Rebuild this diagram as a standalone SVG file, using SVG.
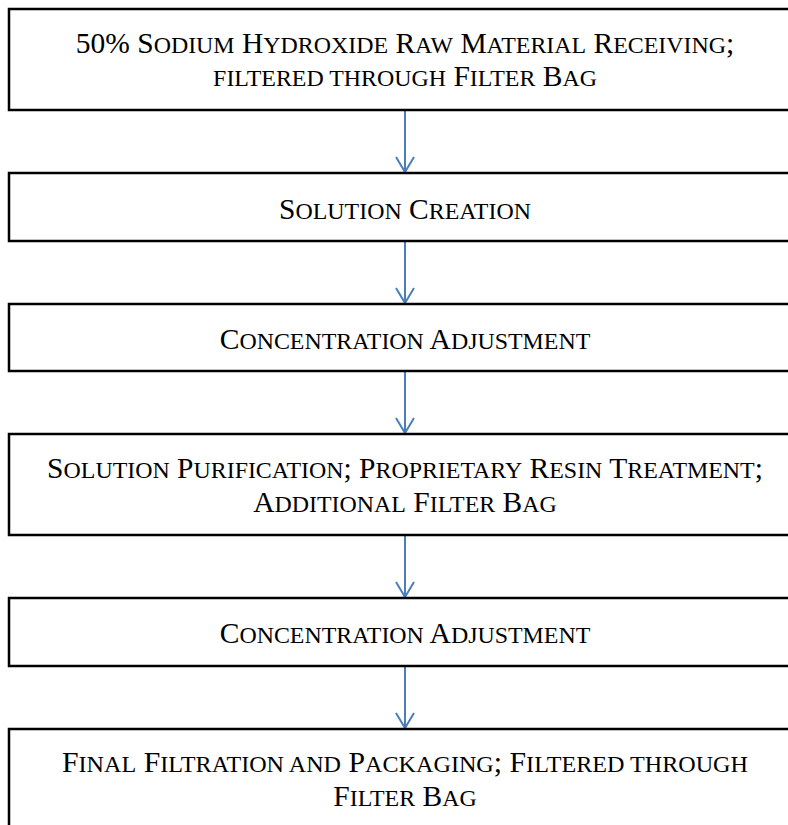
<svg xmlns="http://www.w3.org/2000/svg" width="788" height="825" viewBox="0 0 788 825">
<style>
.box{fill:#fff;stroke:#000;stroke-width:2.5}
.t{font-family:"Liberation Serif","Times New Roman",serif;font-size:29.5px;fill:#000;text-anchor:middle}
.s{font-size:23.9px}
.c{stroke:#4a7ebb;stroke-width:2;fill:none}
</style>
<defs>
<marker id="ah" markerWidth="24" markerHeight="20" refX="10" refY="17" orient="0" markerUnits="userSpaceOnUse">
<path d="M1,2 L10,17 L19,2" fill="none" stroke="#4a7ebb" stroke-width="2"/>
</marker>
</defs>
<rect width="788" height="825" fill="#fff"/>
<g id="connectors">
<line class="c" x1="405" y1="110" x2="405" y2="172" marker-end="url(#ah)"/>
<line class="c" x1="405" y1="241" x2="405" y2="303" marker-end="url(#ah)"/>
<line class="c" x1="405" y1="371" x2="405" y2="433" marker-end="url(#ah)"/>
<line class="c" x1="405" y1="535" x2="405" y2="597" marker-end="url(#ah)"/>
<line class="c" x1="405" y1="666" x2="405" y2="728" marker-end="url(#ah)"/>
</g>
<g id="n1">
<rect class="box" x="9" y="9" width="800" height="101"/>
<text class="t" x="405" y="53">50% S<tspan class="s">ODIUM</tspan> H<tspan class="s">YDROXIDE</tspan> R<tspan class="s">AW</tspan> M<tspan class="s">ATERIAL</tspan> R<tspan class="s">ECEIVING</tspan>;</text>
<text class="t" x="405" y="86"><tspan class="s">FILTERED THROUGH</tspan> F<tspan class="s">ILTER</tspan> B<tspan class="s">AG</tspan></text>
</g>
<g id="n2">
<rect class="box" x="9" y="173" width="800" height="68"/>
<text class="t" x="405" y="219">S<tspan class="s">OLUTION</tspan> C<tspan class="s">REATION</tspan></text>
</g>
<g id="n3">
<rect class="box" x="9" y="304" width="800" height="67"/>
<text class="t" x="405" y="349">C<tspan class="s">ONCENTRATION</tspan> A<tspan class="s">DJUSTMENT</tspan></text>
</g>
<g id="n4">
<rect class="box" x="9" y="434" width="800" height="101"/>
<text class="t" x="405" y="478">S<tspan class="s">OLUTION</tspan> P<tspan class="s">URIFICATION</tspan>; P<tspan class="s">ROPRIETARY</tspan> R<tspan class="s">ESIN</tspan> T<tspan class="s">REATMENT</tspan>;</text>
<text class="t" x="405" y="512">A<tspan class="s">DDITIONAL</tspan> F<tspan class="s">ILTER</tspan> B<tspan class="s">AG</tspan></text>
</g>
<g id="n5">
<rect class="box" x="9" y="598" width="800" height="68"/>
<text class="t" x="405" y="643">C<tspan class="s">ONCENTRATION</tspan> A<tspan class="s">DJUSTMENT</tspan></text>
</g>
<g id="n6">
<rect class="box" x="9" y="729" width="800" height="110"/>
<text class="t" x="405" y="772" textLength="686" lengthAdjust="spacingAndGlyphs">F<tspan class="s">INAL</tspan> F<tspan class="s">ILTRATION AND</tspan> P<tspan class="s">ACKAGING</tspan>; F<tspan class="s">ILTERED THROUGH</tspan></text>
<text class="t" x="405" y="806">F<tspan class="s">ILTER</tspan> B<tspan class="s">AG</tspan></text>
</g>
</svg>
